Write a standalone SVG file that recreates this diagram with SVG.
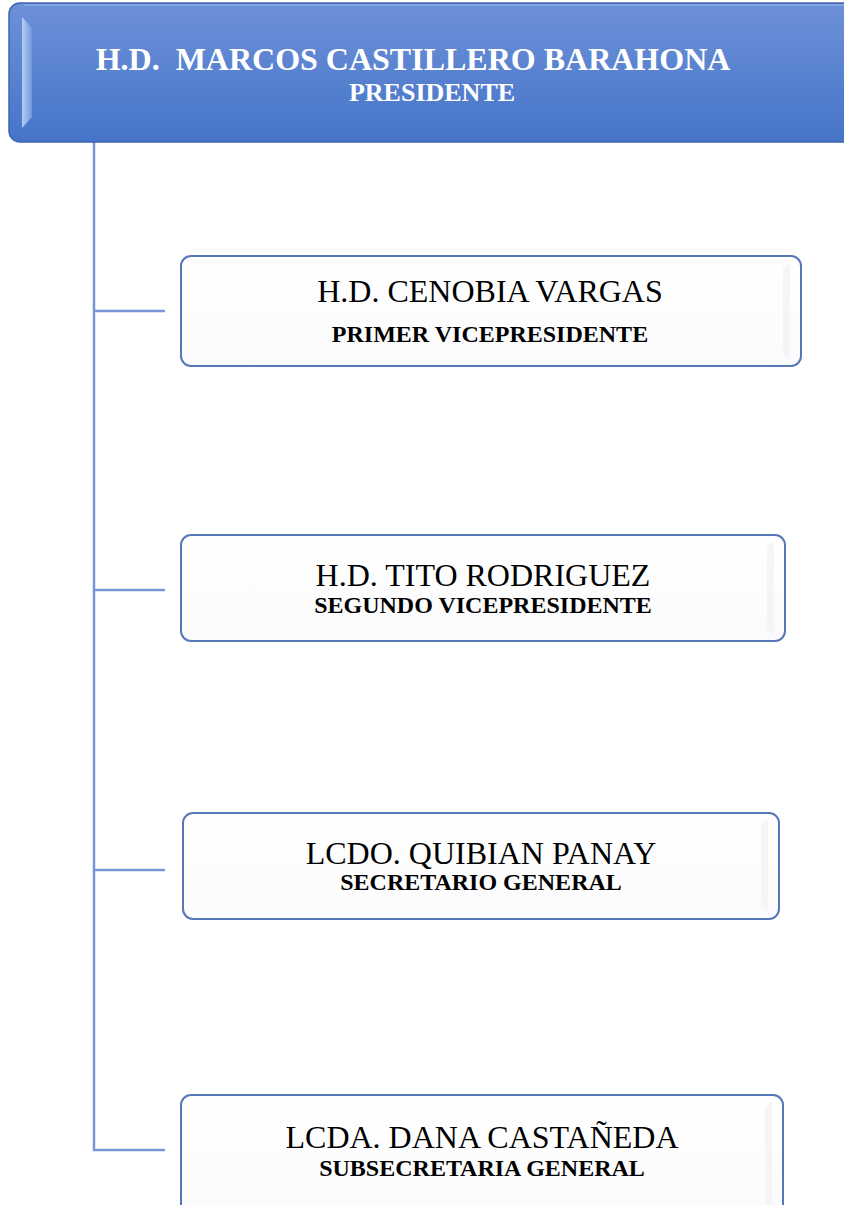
<svg xmlns="http://www.w3.org/2000/svg" width="844" height="1205" viewBox="0 0 844 1205">
<defs>
<linearGradient id="gTop" x1="0" y1="0" x2="0" y2="1">
<stop offset="0" stop-color="#6d91d8"/>
<stop offset="1" stop-color="#4574c8"/>
</linearGradient>
<linearGradient id="gBevel" x1="0" y1="0" x2="1" y2="0">
<stop offset="0" stop-color="#b4cdf3"/>
<stop offset="1" stop-color="#7198dc"/>
</linearGradient>
<linearGradient id="gBox" x1="0" y1="0" x2="0" y2="1">
<stop offset="0" stop-color="#ffffff"/>
<stop offset="1" stop-color="#fbfbfd"/>
</linearGradient>
<style>
.box{fill:url(#gBox);stroke:#5677b8;stroke-width:2}
.shade{fill:#f4f5f7}
.conn{fill:none;stroke:#7a95d3;stroke-width:2.5}
.name{font-family:"Liberation Serif","Times New Roman",serif;font-size:32px;fill:#000;text-anchor:middle}
.role{font-family:"Liberation Serif","Times New Roman",serif;font-size:24px;font-weight:bold;fill:#000;text-anchor:middle}
.tw{font-family:"Liberation Serif","Times New Roman",serif;font-weight:bold;fill:#fff;text-anchor:middle}
</style>
</defs>
<rect width="844" height="1205" fill="#fff"/>
<g id="connectors">
<path class="conn" d="M94 142 V1150 H165"/>
<path class="conn" d="M94 311 H165"/>
<path class="conn" d="M94 590 H165"/>
<path class="conn" d="M94 870 H165"/>
</g>
<g id="president">
<rect x="9" y="3" width="850" height="139" rx="11" fill="url(#gTop)" stroke="#3f64ad" stroke-width="1.5"/>
<polygon points="22,17 32,28 32,117 22,128" fill="url(#gBevel)"/>
<path d="M24 5 H844" stroke="#8aa8e2" stroke-width="1.5" fill="none"/>
<text class="tw" x="413" y="70" font-size="32" xml:space="preserve">H.D.  MARCOS CASTILLERO BARAHONA</text>
<text class="tw" x="432" y="101" font-size="26">PRESIDENTE</text>
</g>
<g id="vp1">
<rect class="box" x="181" y="256" width="620" height="110" rx="10"/>
<polygon class="shade" points="783,268 790,262 790,360 783,354"/>
<text class="name" x="490" y="302">H.D. CENOBIA VARGAS</text>
<text class="role" x="490" y="342">PRIMER VICEPRESIDENTE</text>
</g>
<g id="vp2">
<rect class="box" x="181" y="535" width="604" height="106" rx="10"/>
<polygon class="shade" points="767,547 774,541 774,635 767,629"/>
<text class="name" x="483" y="586">H.D. TITO RODRIGUEZ</text>
<text class="role" x="483" y="613">SEGUNDO VICEPRESIDENTE</text>
</g>
<g id="secretario">
<rect class="box" x="183" y="813" width="596" height="106" rx="10"/>
<polygon class="shade" points="761,825 768,819 768,913 761,907"/>
<text class="name" x="481" y="864">LCDO. QUIBIAN PANAY</text>
<text class="role" x="481" y="890">SECRETARIO GENERAL</text>
</g>
<g id="subsecretaria">
<rect class="box" x="181" y="1095" width="602" height="120" rx="10"/>
<polygon class="shade" points="765,1107 772,1101 772,1205 765,1205"/>
<text class="name" x="482" y="1148">LCDA. DANA CASTAÑEDA</text>
<text class="role" x="482" y="1176">SUBSECRETARIA GENERAL</text>
</g>
</svg>
